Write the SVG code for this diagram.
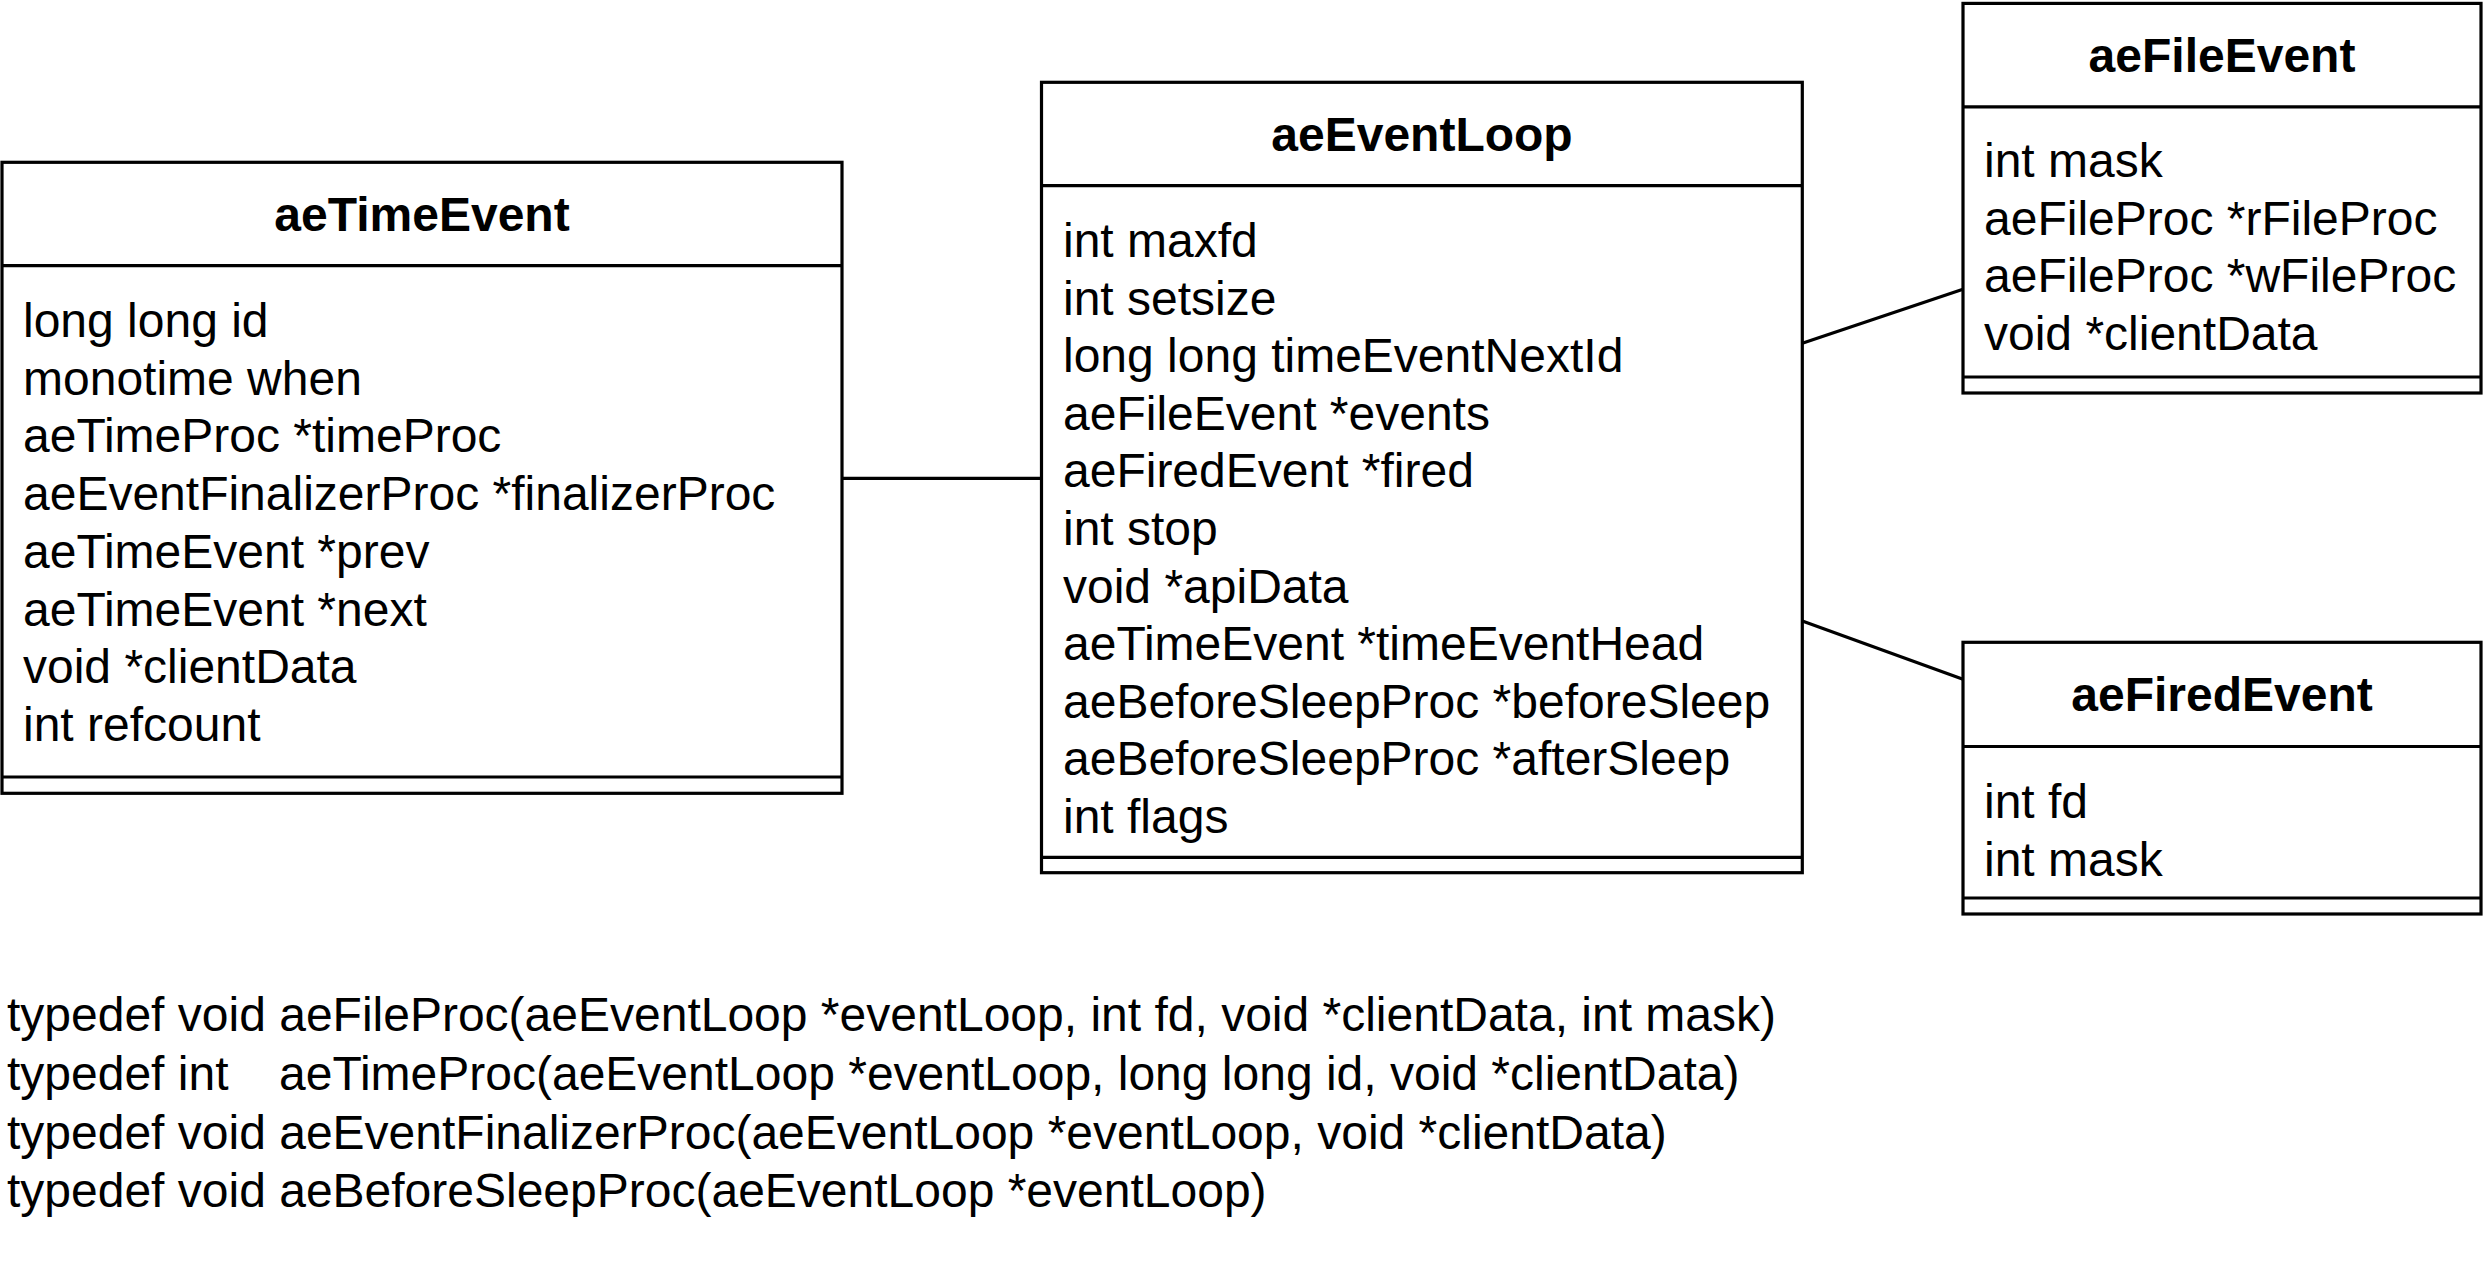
<svg xmlns="http://www.w3.org/2000/svg" width="2484" height="1284" viewBox="0 0 2484 1284">
<style>
.box{fill:#fff;stroke:#000;stroke-width:3.2}
.ln{stroke:#000;stroke-width:3.2;fill:none}
.t{font-family:"Liberation Sans",Arial,sans-serif;font-size:48px;fill:#000}
.h{font-family:"Liberation Sans",Arial,sans-serif;font-size:48px;font-weight:bold;fill:#000;text-anchor:middle}
</style>
<rect width="2484" height="1284" fill="#fff"/>
<g id="connectors">
<line class="ln" x1="842" y1="478.3" x2="1041.5" y2="478.3"/>
<line class="ln" x1="1802.3" y1="343.3" x2="1963" y2="289.3"/>
<line class="ln" x1="1802.3" y1="621" x2="1963" y2="679.3"/>
</g>
<g id="aeTimeEvent">
<rect class="box" x="2" y="162.3" width="840" height="631"/>
<line class="ln" x1="2" y1="265.7" x2="842" y2="265.7"/>
<line class="ln" x1="2" y1="777" x2="842" y2="777"/>
<text class="h" x="422" y="231">aeTimeEvent</text>
<text class="t" x="23" y="337">long long id</text>
<text class="t" x="23" y="394.7">monotime when</text>
<text class="t" x="23" y="452.4">aeTimeProc *timeProc</text>
<text class="t" x="23" y="510.1">aeEventFinalizerProc *finalizerProc</text>
<text class="t" x="23" y="567.8">aeTimeEvent *prev</text>
<text class="t" x="23" y="625.5">aeTimeEvent *next</text>
<text class="t" x="23" y="683.2">void *clientData</text>
<text class="t" x="23" y="740.9">int refcount</text>
</g>
<g id="aeEventLoop">
<rect class="box" x="1041.5" y="82.3" width="760.8" height="790.4"/>
<line class="ln" x1="1041.5" y1="185.7" x2="1802.3" y2="185.7"/>
<line class="ln" x1="1041.5" y1="857.3" x2="1802.3" y2="857.3"/>
<text class="h" x="1422" y="151">aeEventLoop</text>
<text class="t" x="1063" y="257">int maxfd</text>
<text class="t" x="1063" y="314.6">int setsize</text>
<text class="t" x="1063" y="372.2">long long timeEventNextId</text>
<text class="t" x="1063" y="429.8">aeFileEvent *events</text>
<text class="t" x="1063" y="487.4">aeFiredEvent *fired</text>
<text class="t" x="1063" y="545">int stop</text>
<text class="t" x="1063" y="602.6">void *apiData</text>
<text class="t" x="1063" y="660.2">aeTimeEvent *timeEventHead</text>
<text class="t" x="1063" y="717.8">aeBeforeSleepProc *beforeSleep</text>
<text class="t" x="1063" y="775.4">aeBeforeSleepProc *afterSleep</text>
<text class="t" x="1063" y="833">int flags</text>
</g>
<g id="aeFileEvent">
<rect class="box" x="1963" y="3.4" width="518" height="389.6"/>
<line class="ln" x1="1963" y1="106.8" x2="2481" y2="106.8"/>
<line class="ln" x1="1963" y1="377" x2="2481" y2="377"/>
<text class="h" x="2222" y="72">aeFileEvent</text>
<text class="t" x="1984" y="177">int mask</text>
<text class="t" x="1984" y="234.6">aeFileProc *rFileProc</text>
<text class="t" x="1984" y="292.2">aeFileProc *wFileProc</text>
<text class="t" x="1984" y="349.8">void *clientData</text>
</g>
<g id="aeFiredEvent">
<rect class="box" x="1963" y="642.3" width="518" height="271.7"/>
<line class="ln" x1="1963" y1="746.5" x2="2481" y2="746.5"/>
<line class="ln" x1="1963" y1="898" x2="2481" y2="898"/>
<text class="h" x="2222" y="711">aeFiredEvent</text>
<text class="t" x="1984" y="818">int fd</text>
<text class="t" x="1984" y="875.6">int mask</text>
</g>
<g id="typedefs">
<text class="t" x="7" y="1031">typedef void aeFileProc(aeEventLoop *eventLoop, int fd, void *clientData, int mask)</text>
<text class="t" x="7" y="1090">typedef int<tspan x="279">aeTimeProc(aeEventLoop *eventLoop, long long id, void *clientData)</tspan></text>
<text class="t" x="7" y="1149">typedef void aeEventFinalizerProc(aeEventLoop *eventLoop, void *clientData)</text>
<text class="t" x="7" y="1207">typedef void aeBeforeSleepProc(aeEventLoop *eventLoop)</text>
</g>
</svg>
